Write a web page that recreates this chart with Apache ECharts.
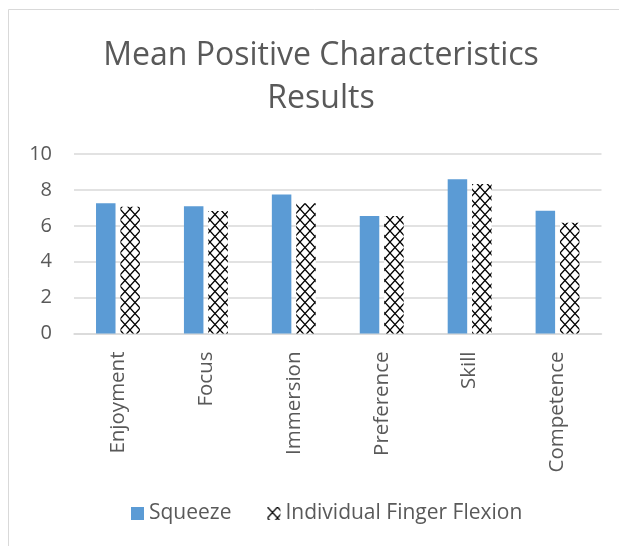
<!DOCTYPE html>
<html>
<head>
<meta charset="utf-8">
<script src="https://cdn.jsdelivr.net/npm/echarts@6/dist/echarts.min.js"></script>
<style>html,body{margin:0;padding:0;background:#fff;}#c{width:619px;height:546px;}</style>
</head>
<body>
<div id="c"></div>
<script>
const categories = ['Enjoyment', 'Focus', 'Immersion', 'Preference', 'Skill', 'Competence'];
const squeezeValues = [7.25, 7.09, 7.75, 6.55, 8.59, 6.84];
const flexionValues = [7.06, 6.82, 7.25, 6.55, 8.33, 6.17];
const seriesNames = ['Squeeze', 'Individual Finger Flexion'];
const titleLines = ['Mean Positive Characteristics', 'Results'];

const FONT = '"Open Sans", sans-serif';
const TXT = '#595959';

// cross-hatch pattern tile
const tile = document.createElement('canvas');
tile.width = 10; tile.height = 11;
const g = tile.getContext('2d');
g.fillStyle = '#ffffff';
g.fillRect(0, 0, 10, 11);
g.strokeStyle = '#000000';
g.lineWidth = 1.3;
g.beginPath();
g.moveTo(0, 0); g.lineTo(10, 11);
g.moveTo(10, 0); g.lineTo(0, 11);
g.stroke();

const chart = echarts.init(document.getElementById('c'), null, {renderer: 'canvas'});
chart.setOption({
  backgroundColor: '#ffffff',
  animation: false,
  graphic: [
    {type: 'rect', shape: {x: 8.5, y: 9.5, width: 700, height: 700}, style: {fill: 'none', stroke: '#d9d9d9', lineWidth: 1}, silent: true, z: -10},
    {type: 'text', x: 321, y: 56, style: {text: titleLines[0], font: '32px ' + FONT, fill: TXT, textAlign: 'center', textVerticalAlign: 'middle'}},
    {type: 'text', x: 321, y: 99, style: {text: titleLines[1], font: '32px ' + FONT, fill: TXT, textAlign: 'center', textVerticalAlign: 'middle'}}
  ],
  legend: {
    data: seriesNames,
    left: 131, top: 503, padding: 0,
    icon: 'rect', itemWidth: 13, itemHeight: 13, itemGap: 36,
    textStyle: {fontFamily: FONT, fontSize: 21, color: TXT, padding: [0, 0, 0, 0]}
  },
  grid: {left: 74, right: 17.5, top: 154, bottom: 212.5, containLabel: false},
  xAxis: {
    type: 'category', data: categories,
    axisLine: {lineStyle: {color: '#d9d9d9', width: 1.5}},
    axisTick: {show: false},
    axisLabel: {rotate: 90, margin: 18, fontFamily: FONT, fontSize: 20.5, color: TXT}
  },
  yAxis: {
    type: 'value', min: 0, max: 10, interval: 2,
    axisLine: {show: false}, axisTick: {show: false},
    splitLine: {lineStyle: {color: '#d9d9d9', width: 1.5}},
    axisLabel: {margin: 22, fontFamily: FONT, fontSize: 20, color: TXT}
  },
  series: [
    {name: seriesNames[0], type: 'bar', data: squeezeValues, barWidth: 19.5, barGap: '25%',
     itemStyle: {color: '#5b9bd5'}},
    {name: seriesNames[1], type: 'bar', data: flexionValues, barWidth: 19.5, barGap: '25%',
     itemStyle: {color: {image: tile, repeat: 'repeat'}}}
  ]
});
</script>
</body>
</html>
